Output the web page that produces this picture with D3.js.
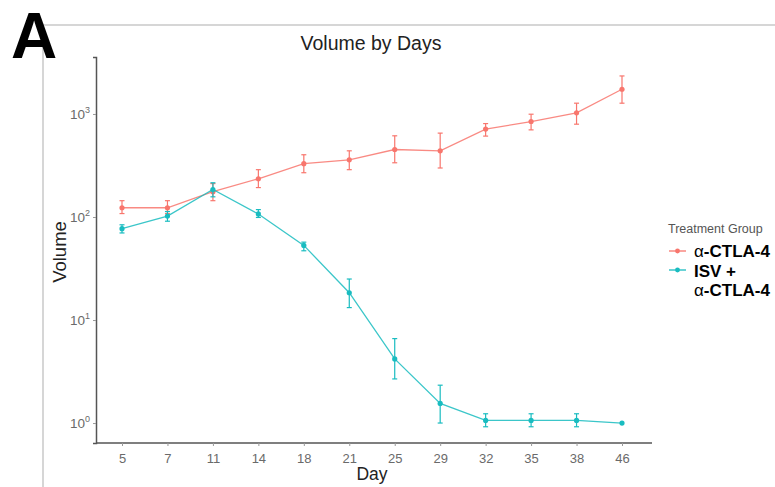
<!DOCTYPE html>
<html>
<head>
<meta charset="utf-8">
<script src="https://cdn.jsdelivr.net/npm/d3@7"></script>
<style>
  body { margin: 0; background: #fff; }
  text { font-family: "Liberation Sans", Arial, sans-serif; }
</style>
</head>
<body>
<div id="chart"></div>
<script>
// data (log-scale volumes)
var days = ["5", "7", "11", "14", "18", "21", "25", "29", "32", "35", "38", "46"];

var ctlaMean  = [123, 123, 176, 235, 329, 359, 452, 439, 713, 845, 1026, 1738];
var ctlaLow   = [108, 108, 144, 193, 269, 288, 336, 299, 610, 701, 796, 1273];
var ctlaHigh  = [144, 144, 211, 288, 402, 439, 614, 652, 807, 995, 1273, 2340];

var isvMean   = [77, 102, 185, 107, 53, 18.4, 4.19, 1.55, 1.06, 1.06, 1.06, 1.0];
var isvLow    = [70, 91, 157, 99, 47, 13.2, 2.68, 1.0, 0.92, 0.92, 0.92, 1.0];
var isvHigh   = [84, 113, 215, 118, 57, 25, 6.6, 2.33, 1.23, 1.23, 1.23, 1.0];

var yTicks = [1, 10, 100, 1000];
var yExps = ["0", "1", "2", "3"];

var groups = [
    { name: "ctla", color: "#F8766D", mean: ctlaMean, low: ctlaLow, high: ctlaHigh },
    { name: "isv",  color: "#19BCC0", mean: isvMean,  low: isvLow,  high: isvHigh }
];

var svgWidth = 775;
var svgHeight = 487;

var svg = d3.select("#chart")
    .append("svg")
    .attr("width", svgWidth)
    .attr("height", svgHeight);

// panel frame lines from the figure
svg.append("line")
    .attr("x1", 43).attr("x2", svgWidth)
    .attr("y1", 25).attr("y2", 25)
    .attr("stroke", "#c9c9c9").attr("stroke-width", 1.5);
svg.append("line")
    .attr("x1", 43).attr("x2", 43)
    .attr("y1", 25).attr("y2", svgHeight)
    .attr("stroke", "#c9c9c9").attr("stroke-width", 1.5);

// panel letter
svg.append("text")
    .attr("x", 11)
    .attr("y", 58)
    .attr("font-size", "64px")
    .attr("font-weight", "bold")
    .attr("fill", "#000")
    .text("A");

// scales
var xScale = d3.scalePoint()
    .domain(days)
    .range([122, 622]);

var yScale = d3.scaleLog()
    .domain([0.64, 3574])
    .range([443, 57]);

// axes
var xAxis = d3.axisBottom(xScale).tickSizeOuter(0).tickSize(3);
var yAxis = d3.axisLeft(yScale).tickValues(yTicks).tickSizeOuter(0).tickSize(3).tickFormat("");

var xg = svg.append("g")
    .attr("transform", "translate(0, 443)")
    .call(xAxis);
xg.select(".domain").attr("d", "M96,0H652").attr("stroke", "#555").attr("stroke-width", 1.5);
xg.selectAll(".tick line").attr("stroke", "#999");
xg.selectAll(".tick text")
    .attr("fill", "#6a6a6a")
    .attr("font-size", "13px")
    .attr("y", 8)
    .attr("dy", "0.95em")
    .style("font-family", "Liberation Sans, Arial, sans-serif");

var yg = svg.append("g")
    .attr("transform", "translate(96, 0)")
    .call(yAxis);
yg.select(".domain").attr("stroke", "#555").attr("stroke-width", 1.5);
yg.selectAll(".tick line").attr("stroke", "#999");

// y tick labels with superscript exponents
yTicks.forEach(function (v, i) {
    var t = svg.append("text")
        .attr("x", 90)
        .attr("y", yScale(v) + 5)
        .attr("text-anchor", "end")
        .attr("fill", "#6a6a6a")
        .attr("font-size", "13.5px");
    t.append("tspan").text("10");
    t.append("tspan")
        .attr("dy", -6)
        .attr("font-size", "9px")
        .text(yExps[i]);
});

// title and axis titles
svg.append("text")
    .attr("x", 371)
    .attr("y", 50)
    .attr("text-anchor", "middle")
    .attr("font-size", "19.5px")
    .attr("fill", "#222")
    .text("Volume by Days");

svg.append("text")
    .attr("x", 372)
    .attr("y", 480)
    .attr("text-anchor", "middle")
    .attr("font-size", "17.5px")
    .attr("fill", "#222")
    .text("Day");

svg.append("text")
    .attr("transform", "rotate(-90)")
    .attr("x", -252)
    .attr("y", 66)
    .attr("text-anchor", "middle")
    .attr("font-size", "18.5px")
    .attr("fill", "#222")
    .text("Volume");

// series
var line = d3.line()
    .x(function (d) { return xScale(d.day); })
    .y(function (d) { return yScale(d.mean); });

groups.forEach(function (g) {
    var pts = days.map(function (d, i) {
        return { day: d, mean: g.mean[i], low: g.low[i], high: g.high[i] };
    });
    var grp = svg.append("g");

    grp.append("path")
        .datum(pts)
        .attr("d", line)
        .attr("fill", "none")
        .attr("stroke", g.color)
        .attr("stroke-width", 1.3)
        .attr("opacity", 0.85);

    var eb = grp.selectAll("g.eb").data(pts.filter(function (d) { return d.high > d.low; })).enter().append("g");
    eb.append("line")
        .attr("x1", d => xScale(d.day)).attr("x2", d => xScale(d.day))
        .attr("y1", d => yScale(d.low)).attr("y2", d => yScale(d.high))
        .attr("stroke", g.color).attr("stroke-width", 1.2);
    eb.append("line")
        .attr("x1", d => xScale(d.day) - 2.5).attr("x2", d => xScale(d.day) + 2.5)
        .attr("y1", d => yScale(d.low)).attr("y2", d => yScale(d.low))
        .attr("stroke", g.color).attr("stroke-width", 1.2);
    eb.append("line")
        .attr("x1", d => xScale(d.day) - 2.5).attr("x2", d => xScale(d.day) + 2.5)
        .attr("y1", d => yScale(d.high)).attr("y2", d => yScale(d.high))
        .attr("stroke", g.color).attr("stroke-width", 1.2);

    grp.selectAll("circle").data(pts).enter()
        .append("circle")
        .attr("cx", d => xScale(d.day))
        .attr("cy", d => yScale(d.mean))
        .attr("r", 2.6)
        .attr("fill", g.color);
});

// legend
var lg = svg.append("g");
lg.append("text")
    .attr("x", 668).attr("y", 233)
    .attr("font-size", "12.5px")
    .attr("fill", "#555")
    .text("Treatment Group");

var legendY = [251, 270];
groups.forEach(function (g, i) {
    lg.append("line")
        .attr("x1", 669).attr("x2", 686)
        .attr("y1", legendY[i]).attr("y2", legendY[i])
        .attr("stroke", g.color).attr("stroke-width", 1.3);
    lg.append("circle")
        .attr("cx", 677.5).attr("cy", legendY[i]).attr("r", 2.4)
        .attr("fill", g.color);
});

function alphaLabel(y) {
    var t = lg.append("text")
        .attr("x", 694).attr("y", y)
        .attr("font-size", "17px")
        .attr("fill", "#000");
    t.append("tspan").attr("font-weight", "normal").text("\u03B1");
    t.append("tspan").attr("font-weight", "bold").text("-CTLA-4");
}
alphaLabel(257);
lg.append("text")
    .attr("x", 694).attr("y", 277)
    .attr("font-size", "17px")
    .attr("font-weight", "bold")
    .attr("fill", "#000")
    .text("ISV +");
alphaLabel(296);
</script>
</body>
</html>
